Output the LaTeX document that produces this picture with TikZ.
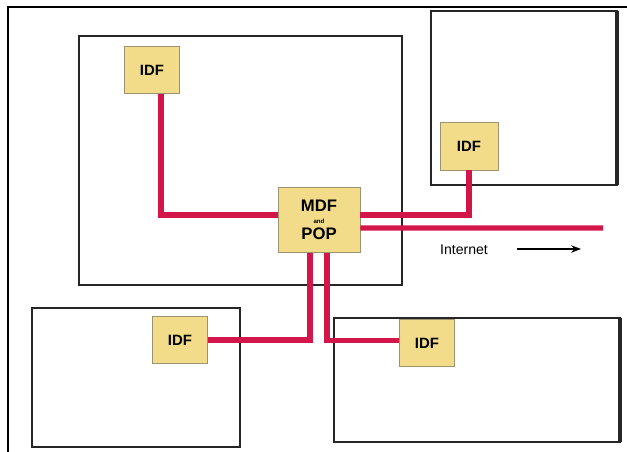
\documentclass[tikz,border=0pt]{standalone}
\usepackage{fontspec}
\setmainfont{Liberation Sans}
\usepackage{tikz}
\usetikzlibrary{arrows.meta,positioning}
\usepackage{xcolor}
\definecolor{wirered}{HTML}{D3164A}
\definecolor{closetfill}{HTML}{F2DC8A}
\definecolor{closetline}{HTML}{9C9470}
\definecolor{wallgray}{HTML}{262626}

\begin{document}
\begin{tikzpicture}[x=0.04cm, y=-0.04cm,
  every node/.style={font=\bfseries\fontsize{17}{18}\selectfont},
  closet/.style={rectangle, draw=closetline, line width=1pt, fill=closetfill, minimum width=2.2cm, minimum height=1.86cm, inner sep=0pt},
  wire/.style={wirered, line width=5.8pt},
  bldg/.style={draw=wallgray, line width=3.2pt}]
\useasboundingbox (0,0) rectangle (627,452);
\draw[line width=2pt] (627,7) -- (8,7) -- (8,452);
% buildings
\draw[bldg] (79,36) rectangle (402,285);
\draw[bldg] (431,11) rectangle (617,185);
\draw[draw=wallgray, line width=5.5pt] (617,11) -- (617,185);
\draw[bldg] (32,308) rectangle (240,447);
\draw[bldg] (334,318) rectangle (620,442);
\draw[draw=wallgray, line width=5.5pt] (620,318) -- (620,442);
% wiring closets
\node[closet] (idfa) at (152,70) {IDF};
\node[closet, minimum width=2.32cm, minimum height=1.92cm] (idfb) at (469,146) {IDF};
\node[closet, minimum width=3.28cm, minimum height=2.6cm, align=center, font=\bfseries\fontsize{19}{20}\selectfont] (mdf) at (319,220) {MDF\\[-6pt]{\fontsize{7}{7}\selectfont and}\\[-2pt]POP};
\node[closet] (idfc) at (180,340) {IDF};
\node[closet] (idfd) at (427,343) {IDF};
\coordinate (inet) at (603,228);
\node[font=\fontsize{16}{17}\selectfont] (inetlbl) at (464,250) {Internet};
\coordinate (arra) at (517,249);
\coordinate (arrb) at (581,249);
% cabling
\draw[wire] ([xshift=0.36cm]idfa.south) |- ([yshift=0.2cm]mdf.west);
\draw[wire] ([yshift=0.2cm]mdf.east) -| (idfb.south);
\draw[wire] ([yshift=-0.32cm]mdf.east) -- (inet);
\draw[wire] ([xshift=-0.36cm]mdf.south) |- (idfc.east);
\draw[wire] ([xshift=0.32cm]mdf.south) |- ([yshift=0.1cm]idfd.west);
\draw[-{Stealth}, line width=1.8pt] (arra) -- (arrb);
\end{tikzpicture}
\end{document}
